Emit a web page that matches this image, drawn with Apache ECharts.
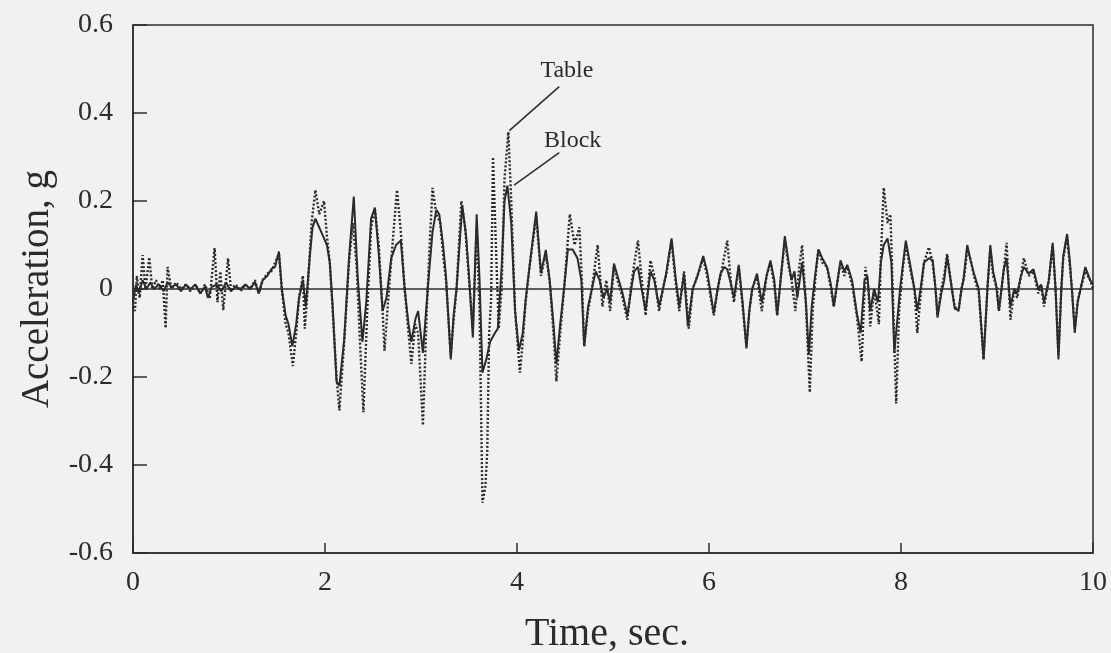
<!DOCTYPE html>
<html>
<head>
<meta charset="utf-8">
<script src="https://cdn.jsdelivr.net/npm/echarts@6/dist/echarts.min.js"></script>
<style>
html,body{margin:0;padding:0;background:#f1f1ef;}
#c{width:1111px;height:653px;}
</style>
</head>
<body>
<div id="c"></div>
<script>
const xTicks = [0, 2, 4, 6, 8, 10];
const yTicks = [-0.6, -0.4, -0.2, 0, 0.2, 0.4, 0.6];

const blockT = [0.00,0.03,0.06,0.10,0.14,0.18,0.22,0.27,0.32,0.36,0.40,0.45,0.50,0.55,0.60,0.65,0.70,0.75,0.78,0.82,0.87,0.92,0.97,1.02,1.07,1.12,1.17,1.22,1.27,1.31,1.35,1.40,1.44,1.48,1.52,1.55,1.59,1.62,1.66,1.70,1.73,1.77,1.80,1.84,1.87,1.90,1.94,1.98,2.02,2.05,2.08,2.12,2.15,2.20,2.25,2.30,2.34,2.39,2.43,2.48,2.52,2.56,2.60,2.64,2.69,2.74,2.79,2.83,2.87,2.90,2.94,2.97,3.02,3.07,3.12,3.16,3.19,3.23,3.26,3.31,3.34,3.37,3.43,3.47,3.50,3.54,3.58,3.61,3.64,3.68,3.72,3.77,3.80,3.84,3.87,3.90,3.94,3.98,4.02,4.06,4.09,4.13,4.20,4.25,4.30,4.34,4.38,4.41,4.45,4.49,4.53,4.58,4.63,4.67,4.70,4.74,4.77,4.82,4.86,4.90,4.94,4.97,5.01,5.06,5.10,5.15,5.19,5.22,5.26,5.29,5.34,5.39,5.43,5.48,5.52,5.55,5.61,5.65,5.69,5.74,5.78,5.83,5.88,5.94,5.98,6.01,6.05,6.09,6.12,6.16,6.19,6.23,6.26,6.31,6.35,6.39,6.42,6.45,6.50,6.55,6.60,6.64,6.68,6.71,6.75,6.79,6.83,6.86,6.89,6.92,6.97,7.01,7.04,7.07,7.10,7.14,7.18,7.23,7.27,7.30,7.34,7.37,7.41,7.44,7.49,7.54,7.58,7.62,7.65,7.68,7.72,7.76,7.79,7.82,7.86,7.90,7.93,7.97,7.99,8.05,8.10,8.14,8.17,8.21,8.24,8.29,8.33,8.36,8.38,8.42,8.45,8.48,8.53,8.56,8.60,8.63,8.65,8.69,8.72,8.76,8.81,8.86,8.90,8.93,8.96,8.99,9.02,9.07,9.10,9.14,9.18,9.21,9.25,9.28,9.33,9.38,9.43,9.46,9.49,9.54,9.58,9.61,9.64,9.67,9.69,9.73,9.76,9.78,9.81,9.84,9.87,9.92,9.97,10.0];
const blockV = [-0.03,0.01,-0.01,0.02,0.0,0.015,0.0,0.01,-0.005,0.015,0.005,0.01,-0.005,0.01,0.0,0.01,-0.01,0.005,-0.02,0.005,0.01,-0.005,0.015,-0.005,0.005,0.0,0.01,0.0,0.015,-0.01,0.02,0.03,0.045,0.05,0.085,0.0,-0.06,-0.08,-0.13,-0.08,-0.02,0.02,-0.04,0.07,0.14,0.16,0.14,0.12,0.1,0.06,-0.04,-0.21,-0.22,-0.115,0.07,0.21,0.03,-0.12,-0.03,0.16,0.185,0.08,-0.05,-0.02,0.07,0.1,0.11,0.0,-0.08,-0.12,-0.07,-0.05,-0.145,0.0,0.13,0.18,0.17,0.1,0.03,-0.16,-0.06,0.0,0.19,0.12,0.03,-0.11,0.17,0.02,-0.19,-0.16,-0.12,-0.1,-0.09,0.05,0.2,0.235,0.15,-0.05,-0.14,-0.1,-0.025,0.05,0.176,0.036,0.089,0.02,-0.08,-0.17,-0.08,0.0,0.09,0.09,0.07,0.02,-0.13,-0.04,-0.01,0.04,0.02,-0.02,0.0,-0.03,0.058,0.02,-0.01,-0.06,0.0,0.04,0.05,0.01,-0.05,0.04,0.02,-0.04,0.0,0.03,0.115,0.03,-0.04,0.035,-0.085,0.0,0.03,0.075,0.04,0.0,-0.055,0.0,0.035,0.05,0.045,0.01,-0.02,0.055,-0.03,-0.135,-0.05,0.0,0.035,-0.03,0.03,0.065,0.02,-0.06,0.03,0.12,0.06,0.02,0.04,-0.02,0.06,-0.03,-0.15,-0.04,0.02,0.09,0.07,0.05,0.01,-0.04,0.02,0.065,0.04,0.055,0.02,-0.055,-0.1,0.02,0.03,-0.05,0.0,-0.03,0.06,0.1,0.115,0.06,-0.145,-0.05,0.0,0.11,0.05,0.0,-0.05,0.01,0.06,0.07,0.065,0.0,-0.065,-0.01,0.02,0.075,0.0,-0.045,-0.048,0.0,0.02,0.1,0.07,0.035,0.0,-0.16,0.0,0.1,0.04,0.01,-0.05,0.045,0.07,-0.04,0.0,-0.01,0.03,0.05,0.035,0.045,0.0,0.01,-0.03,0.02,0.105,0.0,-0.16,0.0,0.075,0.125,0.06,0.0,-0.1,-0.03,0.0,0.05,0.02,0.01];

const tableT = [0.00,0.02,0.04,0.07,0.10,0.13,0.17,0.20,0.24,0.28,0.31,0.34,0.36,0.40,0.45,0.50,0.55,0.60,0.65,0.70,0.75,0.80,0.85,0.88,0.91,0.94,0.99,1.02,1.07,1.12,1.17,1.22,1.27,1.31,1.35,1.40,1.44,1.48,1.52,1.55,1.59,1.62,1.665,1.70,1.73,1.77,1.79,1.82,1.86,1.90,1.94,1.99,2.02,2.05,2.08,2.12,2.15,2.20,2.25,2.29,2.33,2.36,2.40,2.44,2.48,2.52,2.56,2.60,2.62,2.66,2.71,2.75,2.79,2.83,2.87,2.90,2.94,2.97,3.02,3.06,3.09,3.12,3.16,3.20,3.23,3.26,3.31,3.34,3.37,3.42,3.46,3.50,3.54,3.58,3.61,3.64,3.67,3.69,3.71,3.73,3.75,3.78,3.81,3.84,3.87,3.91,3.94,3.98,4.03,4.06,4.09,4.13,4.20,4.25,4.30,4.34,4.38,4.41,4.45,4.49,4.55,4.60,4.65,4.68,4.70,4.74,4.78,4.84,4.89,4.93,4.97,5.01,5.06,5.10,5.15,5.19,5.23,5.26,5.30,5.34,5.39,5.43,5.48,5.52,5.56,5.61,5.65,5.69,5.74,5.79,5.83,5.88,5.94,5.98,6.01,6.05,6.09,6.13,6.19,6.23,6.26,6.31,6.35,6.39,6.42,6.45,6.50,6.55,6.60,6.64,6.68,6.71,6.75,6.79,6.83,6.86,6.90,6.94,6.97,7.01,7.05,7.08,7.11,7.14,7.18,7.23,7.27,7.30,7.34,7.37,7.41,7.44,7.49,7.54,7.59,7.63,7.66,7.68,7.72,7.77,7.79,7.82,7.86,7.89,7.92,7.95,7.98,8.02,8.05,8.10,8.14,8.17,8.21,8.24,8.29,8.33,8.36,8.38,8.42,8.45,8.48,8.53,8.56,8.60,8.63,8.66,8.69,8.72,8.76,8.81,8.86,8.90,8.93,8.96,9.00,9.02,9.07,9.10,9.14,9.18,9.21,9.25,9.28,9.33,9.38,9.43,9.46,9.49,9.54,9.58,9.61,9.64,9.67,9.69,9.73,9.76,9.78,9.81,9.84,9.87,9.92,9.97,10.0];
const tableV = [-0.04,-0.05,0.03,-0.02,0.077,0.0,0.072,0.0,0.02,0.0,0.02,-0.089,0.05,0.0,0.015,0.0,0.01,-0.005,0.01,-0.01,0.01,-0.02,0.093,-0.03,0.04,-0.048,0.07,0.0,0.01,-0.005,0.01,0.0,0.02,-0.01,0.02,0.035,0.04,0.06,0.08,0.0,-0.08,-0.1,-0.175,-0.1,-0.02,0.03,-0.09,0.0,0.15,0.225,0.17,0.2,0.12,0.06,-0.05,-0.2,-0.276,-0.12,0.06,0.15,0.05,-0.1,-0.28,-0.05,0.14,0.18,0.1,-0.05,-0.14,-0.02,0.12,0.225,0.13,0.0,-0.1,-0.17,-0.08,-0.1,-0.31,-0.05,0.1,0.23,0.17,0.15,0.08,0.02,-0.15,-0.07,0.0,0.2,0.14,0.02,-0.09,0.14,-0.05,-0.486,-0.45,-0.37,-0.1,-0.025,0.30,0.1,-0.09,0.0,0.25,0.357,0.2,-0.05,-0.19,-0.12,-0.03,0.05,0.165,0.03,0.08,0.02,-0.1,-0.21,-0.1,0.0,0.17,0.1,0.14,0.0,-0.13,-0.05,0.0,0.1,-0.04,0.02,-0.05,0.05,0.01,-0.02,-0.07,0.01,0.07,0.11,0.02,-0.06,0.065,0.03,-0.05,0.0,0.04,0.11,0.02,-0.05,0.04,-0.09,0.0,0.03,0.07,0.03,-0.01,-0.06,0.0,0.04,0.11,0.01,-0.03,0.05,-0.04,-0.13,-0.05,0.0,0.03,-0.05,0.03,0.06,0.01,-0.06,0.03,0.11,0.05,0.02,-0.05,0.05,0.1,-0.04,-0.235,-0.05,0.03,0.09,0.06,0.05,0.0,-0.04,0.02,0.06,0.03,0.05,0.01,-0.06,-0.165,0.05,0.0,-0.085,0.0,-0.08,0.07,0.23,0.15,0.17,-0.05,-0.26,-0.05,0.05,0.1,0.04,0.0,-0.1,0.0,0.06,0.095,0.06,0.0,-0.06,0.0,0.03,0.08,0.0,-0.04,-0.05,0.0,0.03,0.09,0.07,0.03,-0.01,-0.16,0.0,0.09,0.03,0.0,-0.05,0.04,0.105,-0.07,0.0,-0.02,0.03,0.07,0.03,0.04,-0.01,0.01,-0.04,0.02,0.1,0.0,-0.15,0.0,0.07,0.12,0.05,0.0,-0.09,-0.03,0.0,0.04,0.02,0.0];

// annotation anchors (data coordinates)
const tableLabel = {text: 'Table', at: [4.52, 0.497], from: [3.92, 0.36], to: [4.44, 0.46]};
const blockLabel = {text: 'Block', at: [4.58, 0.337], from: [3.97, 0.236], to: [4.44, 0.31]};

const ink = '#2b2b2b';
const serif = '"Liberation Serif", "DejaVu Serif", serif';

const zip = (t, v) => t.map((x, i) => [x, v[i]]);

const chart = echarts.init(document.getElementById('c'), null, {renderer: 'canvas'});
chart.setOption({
  backgroundColor: '#f1f1ef',
  animation: false,
  grid: {left: 133, right: 18, top: 25, bottom: 100, containLabel: false, outerBoundsMode: 'none',
    show: true, borderColor: ink, borderWidth: 1.5, backgroundColor: 'transparent'},
  xAxis: {
    type: 'value', min: xTicks[0], max: xTicks[xTicks.length - 1], interval: 2,
    name: 'Time, sec.', nameLocation: 'middle', nameGap: 61,
    nameTextStyle: {fontFamily: serif, fontSize: 40, color: ink, padding: [0, 12, 0, 0]},
    axisLine: {show: true, onZero: false, lineStyle: {color: ink, width: 1.5}},
    axisTick: {show: true, inside: true, length: 10, lineStyle: {color: ink, width: 1.5}},
    axisLabel: {fontFamily: serif, fontSize: 28, color: ink, margin: 16},
    splitLine: {show: false}
  },
  yAxis: {
    type: 'value', min: yTicks[0], max: yTicks[yTicks.length - 1], interval: 0.2,
    name: 'Acceleration, g', nameLocation: 'middle', nameGap: 76,
    nameTextStyle: {fontFamily: serif, fontSize: 39, color: ink},
    axisLine: {show: true, onZero: false, lineStyle: {color: ink, width: 1.5}},
    axisTick: {show: true, inside: true, length: 14, lineStyle: {color: ink, width: 1.5}},
    axisLabel: {fontFamily: serif, fontSize: 28, color: ink, margin: 20,
      formatter: v => Math.abs(v) < 1e-9 ? '0' : v.toFixed(1)},
    splitLine: {show: false}
  },
  series: [
    {
      name: 'Table', type: 'line', data: zip(tableT, tableV), showSymbol: false, symbol: 'none',
      lineStyle: {color: ink, width: 2.4, type: [2, 2]}, z: 2,
      markLine: {
        silent: true, symbol: 'none', animation: false,
        lineStyle: {color: ink, width: 1.5, type: 'solid'}, label: {show: false},
        data: [[{coord: tableLabel.from}, {coord: tableLabel.to}], [{coord: blockLabel.from}, {coord: blockLabel.to}]]
      },
      markPoint: {
        silent: true, symbol: 'circle', symbolSize: 0,
        label: {show: true, position: 'inside', fontFamily: serif, fontSize: 24, color: ink},
        data: [
          {coord: tableLabel.at, value: tableLabel.text, label: {formatter: tableLabel.text}},
          {coord: blockLabel.at, value: blockLabel.text, label: {formatter: blockLabel.text}}
        ]
      }
    },
    {
      name: 'Block', type: 'line', data: zip(blockT, blockV), showSymbol: false, symbol: 'none',
      lineStyle: {color: ink, width: 2}, z: 3,
      markLine: {
        silent: true, symbol: 'none', animation: false,
        lineStyle: {color: ink, width: 1.5, type: 'solid'}, label: {show: false},
        data: [{yAxis: 0}]
      }
    }
  ]
});
</script>
</body>
</html>
